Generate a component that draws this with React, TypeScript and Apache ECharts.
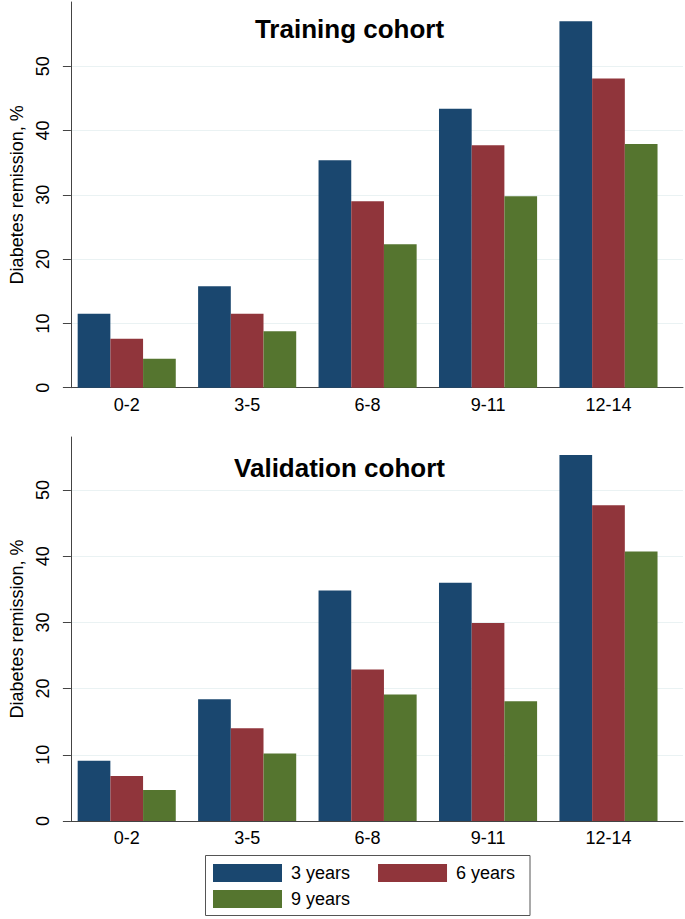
import React, { useEffect, useRef } from "react";
import * as echarts from "echarts";

const categories = ["0-2", "3-5", "6-8", "9-11", "12-14"];
const seriesNames = ["3 years", "6 years", "9 years"];
const seriesColors = ["#1a476f", "#90353b", "#55752f"];

const training3 = [11.5, 15.8, 35.4, 43.4, 57.0];
const training6 = [7.6, 11.5, 29.0, 37.7, 48.1];
const training9 = [4.5, 8.8, 22.3, 29.8, 37.9];

const validation3 = [9.1, 18.4, 34.8, 36.0, 55.3];
const validation6 = [6.8, 14.0, 22.9, 29.9, 47.7];
const validation9 = [4.7, 10.2, 19.1, 18.1, 40.7];

const yTicks = [0, 10, 20, 30, 40, 50];
const panelTitles = ["Training cohort", "Validation cohort"];
const yTitle = "Diabetes remission, %";

const FONT = "'Liberation Sans', Arial, Helvetica, sans-serif";

export default function App() {
  const ref = useRef<HTMLDivElement>(null);

  useEffect(() => {
    document.body.style.margin = "0";
    const chart = echarts.init(ref.current!, null, { renderer: "svg" });

    const panels = [
      { top: 2, height: 385.7, max: 60, data: [training3, training6, training9] },
      { top: 437, height: 384, max: 58, data: [validation3, validation6, validation9] },
    ];

    const grids: any[] = [];
    const xAxes: any[] = [];
    const yAxes: any[] = [];
    const series: any[] = [];

    panels.forEach((p, i) => {
      const frameIdx = i * 2;
      const barIdx = i * 2 + 1;
      grids.push({ left: 53, width: 630, top: p.top, height: p.height });
      grids.push({ left: 66.5, right: 16.3, top: p.top, height: p.height });

      xAxes.push({
        gridIndex: frameIdx,
        type: "category",
        data: [""],
        axisLine: { show: true, lineStyle: { color: "#444", width: 1 } },
        axisTick: { show: false },
        axisLabel: { show: false },
        splitLine: { show: false },
      });
      xAxes.push({
        gridIndex: barIdx,
        type: "category",
        data: categories,
        axisLine: { show: false },
        axisTick: { show: false },
        axisLabel: { color: "#000", fontSize: 18, fontFamily: FONT, margin: 8 },
        splitLine: { show: false },
      });

      yAxes.push({
        gridIndex: frameIdx,
        type: "value",
        min: 0,
        max: p.max,
        interval: 10,
        name: yTitle,
        nameLocation: "middle",
        nameGap: 40,
        nameTextStyle: { color: "#000", fontSize: 18, fontFamily: FONT },
        axisLine: { show: true, lineStyle: { color: "#444", width: 1 } },
        axisTick: { show: true, length: 8, customValues: yTicks, lineStyle: { color: "#444" } },
        axisLabel: {
          customValues: yTicks,
          rotate: 90,
          color: "#000",
          fontSize: 18,
          fontFamily: FONT,
          margin: 19,
        },
        splitLine: { show: true, lineStyle: { color: "#eaf2f3", width: 1.2 } },
      });
      yAxes.push({
        gridIndex: barIdx,
        type: "value",
        min: 0,
        max: p.max,
        show: false,
        splitLine: { show: false },
      });

      p.data.forEach((vals, k) => {
        series.push({
          type: "bar",
          name: seriesNames[k],
          xAxisIndex: barIdx,
          yAxisIndex: barIdx,
          data: vals,
          barWidth: 32.7,
          barGap: "0%",
          itemStyle: { color: seriesColors[k] },
        });
      });
    });

    const legendCommon = {
      icon: "rect",
      itemWidth: 69,
      itemHeight: 18,
      padding: 0,
      selectedMode: false,
      textStyle: { color: "#000", fontSize: 18, fontFamily: FONT, padding: [0, 0, 0, 4] },
    };

    chart.setOption({
      animation: false,
      backgroundColor: "#ffffff",
      color: seriesColors,
      title: [
        {
          text: panelTitles[0],
          left: 344.5,
          top: 11,
          textAlign: "center",
          textStyle: { color: "#000", fontSize: 26, fontWeight: "bold", fontFamily: FONT },
        },
        {
          text: panelTitles[1],
          left: 334.5,
          top: 450,
          textAlign: "center",
          textStyle: { color: "#000", fontSize: 26, fontWeight: "bold", fontFamily: FONT },
        },
      ],
      grid: grids,
      xAxis: xAxes,
      yAxis: yAxes,
      series,
      legend: [
        { ...legendCommon, data: [seriesNames[0], seriesNames[1]], left: 213, top: 864, itemGap: 28 },
        { ...legendCommon, data: [seriesNames[2]], left: 213, top: 890 },
      ],
      graphic: [
        {
          type: "rect",
          z: -1,
          shape: { x: 205.5, y: 855.5, width: 324.5, height: 60 },
          style: { fill: "transparent", stroke: "#555", lineWidth: 1 },
        },
      ],
    });

    return () => chart.dispose();
  }, []);

  return <div ref={ref} style={{ width: 685, height: 919 }} />;
}
